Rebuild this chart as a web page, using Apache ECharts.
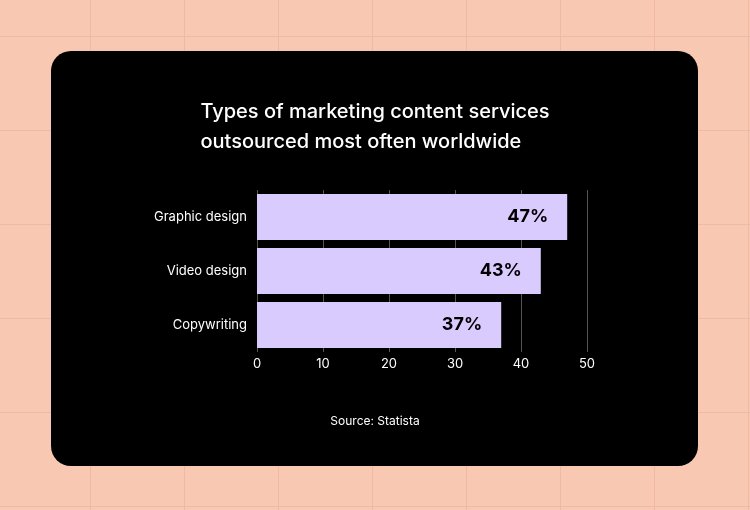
<!DOCTYPE html>
<html>
<head>
<meta charset="utf-8">
<script src="https://cdn.jsdelivr.net/npm/echarts@6/dist/echarts.min.js"></script>
<style>
  html, body { margin: 0; padding: 0; }
  body {
    width: 750px; height: 510px;
    background-color: #f8c8b2;
    background-image:
      linear-gradient(to right, #efb9a3 1px, transparent 1px),
      linear-gradient(to bottom, #efb9a3 1px, transparent 1px);
    background-size: 94px 94px;
    background-position: -4px 36px;
  }
  #chart { width: 750px; height: 510px; }
</style>
</head>
<body>
<div id="chart"></div>
<script>
var categories = ['Copywriting', 'Video design', 'Graphic design'];
var shares = [37, 43, 47];
var xTicks = [0, 10, 20, 30, 40, 50];

var chart = echarts.init(document.getElementById('chart'));

chart.setOption({
    backgroundColor: 'transparent',
    graphic: [
        { type: 'rect', z: -10, shape: { x: 51, y: 51, width: 647, height: 415, r: 20 }, style: { fill: '#000' } },
        { type: 'text', left: 'center', top: 97, style: {
            text: 'Types of marketing content services\noutsourced most often worldwide',
            fill: '#fff', font: '500 20px Inter', align: 'center', lineHeight: 30 } },
        { type: 'text', left: 'center', top: 415, style: {
            text: 'Source: Statista', fill: '#fff', font: '12px Inter' } }
    ],
    grid: { left: 257, right: 163, top: 190, bottom: 158 },
    xAxis: {
        type: 'value', min: xTicks[0], max: xTicks[xTicks.length - 1], interval: 10,
        axisLine: { show: false }, axisTick: { show: false },
        axisLabel: { color: '#fff', fontFamily: 'Inter', fontSize: 13, margin: 6 },
        splitLine: { show: true, lineStyle: { color: '#555', width: 1 } }
    },
    yAxis: {
        type: 'category', data: categories,
        axisLine: { show: false }, axisTick: { show: false },
        axisLabel: { color: '#fff', fontFamily: 'Inter', fontSize: 13, margin: 10 }
    },
    series: [{
        type: 'bar', data: shares, barWidth: 46,
        itemStyle: { color: '#dacbfe' },
        label: {
            show: true, position: 'insideRight', offset: [-14, 0],
            formatter: '{c}%', color: '#000',
            fontFamily: 'Inter', fontWeight: 'bold', fontSize: 18
        }
    }]
});
</script>
</body>
</html>
